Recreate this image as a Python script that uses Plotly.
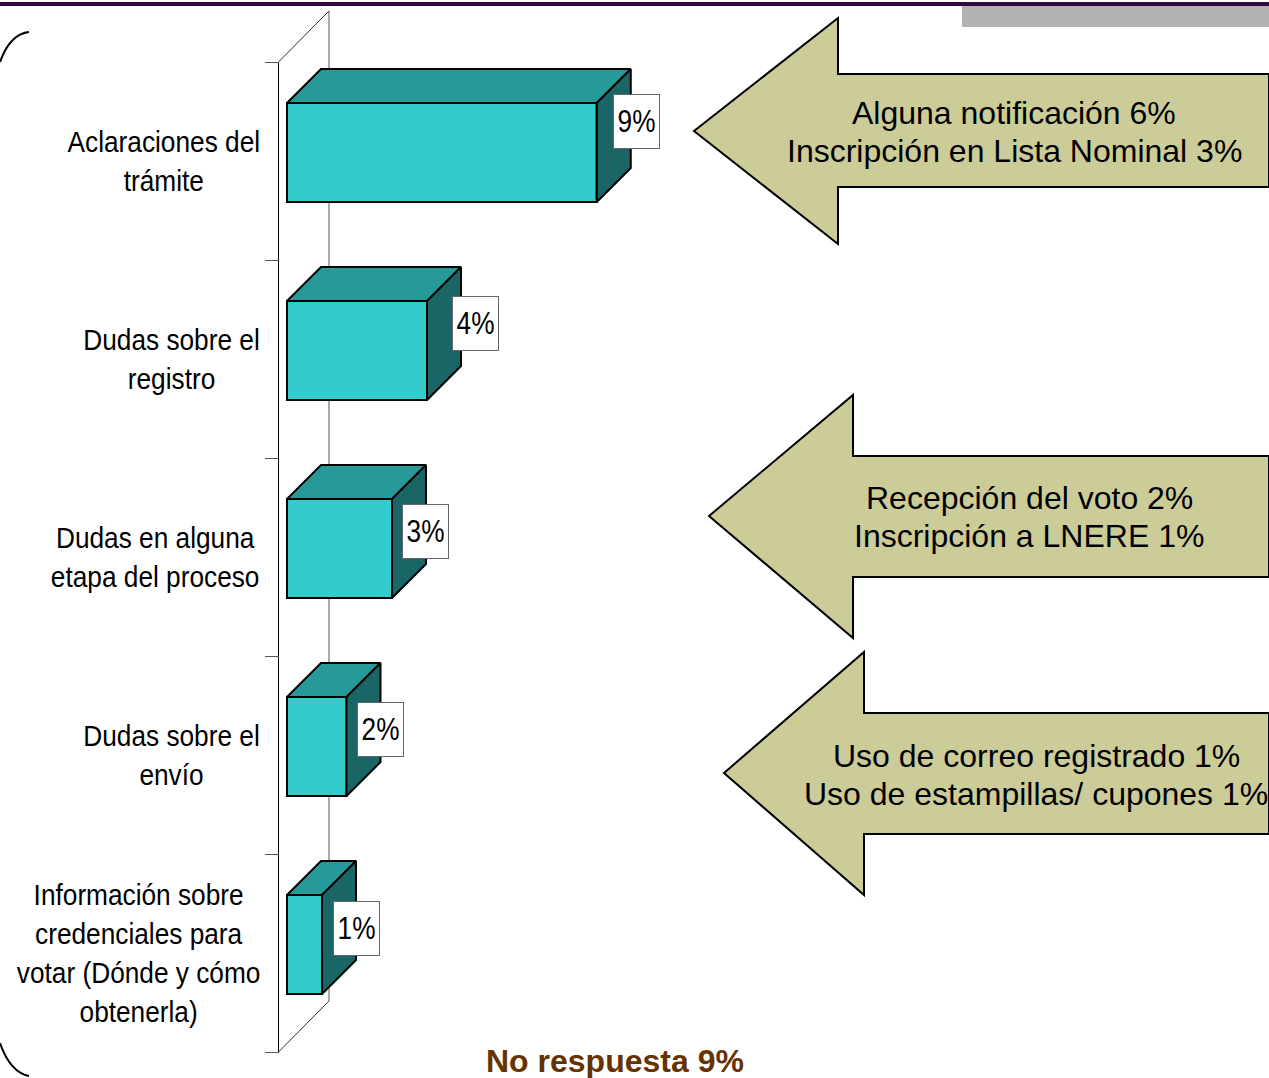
import plotly.graph_objects as go

categories = [
    "Aclaraciones del<br>trámite",
    "Dudas sobre el<br>registro",
    "Dudas en alguna<br>etapa del proceso",
    "Dudas sobre el<br>envío",
    "Información sobre<br>credenciales para<br>votar (Dónde y cómo<br>obtenerla)",
]
values = [8.85, 4.0, 3.0, 1.7, 1.0]
value_labels = ["9%", "4%", "3%", "2%", "1%"]
callout_lines = [
    ["Alguna notificación 6%", "Inscripción en Lista Nominal 3%"],
    ["Recepción del voto 2%", "Inscripción a LNERE 1%"],
    ["Uso de correo registrado 1%", "Uso de estampillas/ cupones 1%"],
]
footer = "No respuesta 9%"

W, H = 1269, 1078
# plot scale: bars start at x=287px, one unit = 35px, one category = 198px from y=62px
X0, UNIT, Y0, BAND = 287, 35.0, 62, 198.0
DX, DY = 34 / UNIT, 34 / BAND
ARIAL = "Liberation Sans"


def px(x):
    return x / W


def py(y):
    return 1 - y / H


def data_x(x):
    return (x - X0) / UNIT


fig = go.Figure()

# front faces
fig.add_trace(go.Bar(
    x=values,
    y=[i + 0.457 for i in range(len(values))],
    width=0.5,
    orientation="h",
    marker=dict(color="#33CCCC", line=dict(color="black", width=2)),
    hoverinfo="skip",
))

# top and side faces
for i, v in enumerate(values):
    top, bottom = i + 0.207, i + 0.707
    fig.add_trace(go.Scatter(
        x=[0, DX, v + DX, v, 0], y=[top, top - DY, top - DY, top, top],
        fill="toself", fillcolor="#269999", mode="lines",
        line=dict(color="black", width=2), hoverinfo="skip",
    ))
    fig.add_trace(go.Scatter(
        x=[v, v + DX, v + DX, v, v], y=[top, top - DY, bottom - DY, bottom, top],
        fill="toself", fillcolor="#1A6666", mode="lines",
        line=dict(color="black", width=2), hoverinfo="skip",
    ))

# back wall of the 3d box, behind the bars
n = len(values)
wall_x, wall_back = data_x(278.5), data_x(329)
shapes = [
    dict(type="line", xref="x", yref="y", x0=wall_x, x1=wall_x, y0=0, y1=n,
         line=dict(color="black", width=1), layer="below"),
    dict(type="line", xref="x", yref="y", x0=wall_back, x1=wall_back,
         y0=-51 / BAND, y1=n - 51 / BAND, line=dict(color="#555555", width=1), layer="below"),
    dict(type="line", xref="x", yref="y", x0=wall_x, x1=wall_back, y0=0, y1=-51 / BAND,
         line=dict(color="#333333", width=1), layer="below"),
    dict(type="line", xref="x", yref="y", x0=wall_x, x1=wall_back, y0=n, y1=n - 51 / BAND,
         line=dict(color="#333333", width=1), layer="below"),
]

# page furniture
shapes += [
    dict(type="rect", xref="paper", yref="paper", x0=px(962), x1=1, y0=py(27), y1=py(5),
         fillcolor="#B2B2B2", line_width=0, layer="below"),
    dict(type="rect", xref="paper", yref="paper", x0=0, x1=1, y0=py(6), y1=py(2),
         fillcolor="#33063F", line_width=0, layer="below"),
]


def bracket(x_a, y_a, x_c, y_c, x_b, y_b):
    return f"M {px(x_a)} {py(y_a)} Q {px(x_c)} {py(y_c)} {px(x_b)} {py(y_b)}"


for path in [bracket(29, 32, 10, 34, 0, 62), bracket(29, 1076, 10, 1072, 0, 1043)]:
    shapes.append(dict(type="path", xref="paper", yref="paper", path=path,
                       line=dict(color="black", width=2)))

# callout arrows: tip x, tip y, head x, head top, neck top, neck bottom, head bottom
arrows = [
    (694, 131, 838, 18, 74, 187, 244),
    (709, 516, 853, 395, 456, 577, 638),
    (724, 773, 864, 652, 713, 834, 895),
]
for tx, ty, hx, ht, nt, nb, hb in arrows:
    pts = [(tx, ty), (hx, ht), (hx, nt), (W, nt), (W, nb), (hx, nb), (hx, hb)]
    path = "M " + " L ".join(f"{px(a)} {py(b)}" for a, b in pts) + " Z"
    shapes.append(dict(type="path", xref="paper", yref="paper", path=path,
                       fillcolor="#CCCC99", line=dict(color="black", width=2)))

annotations = []

# category labels
for i, c in enumerate(categories):
    annotations.append(dict(
        text=c, xref="paper", yref="y", x=px(262), y=i + 0.5, xanchor="right", yanchor="middle",
        align="center", showarrow=False, font=dict(family=ARIAL, size=30, color="black"),
    ))

# value boxes
label_dx = [40, 48.5, 33, 34, 34]
label_dy = [0.303, 0.323, 0.369, 0.369, 0.374]
for i, (v, t) in enumerate(zip(values, value_labels)):
    annotations.append(dict(
        text=t, xref="x", yref="y", x=v + label_dx[i] / UNIT, y=i + label_dy[i],
        xanchor="center", yanchor="middle", showarrow=False, width=45, height=53,
        bgcolor="white", bordercolor="#666666", borderwidth=1, borderpad=0,
        font=dict(family=ARIAL, size=32, color="black"),
    ))

# callout text
callout_pos = [(1014, 113, 151), (1029, 498, 536), (1036, 756, 794)]
for lines, (cx, y1, y2) in zip(callout_lines, callout_pos):
    for line, y in zip(lines, (y1, y2)):
        annotations.append(dict(
            text=line, xref="paper", yref="paper", x=px(cx), y=py(y), xanchor="center",
            yanchor="middle", showarrow=False, font=dict(family=ARIAL, size=32, color="black"),
        ))

annotations.append(dict(
    text=f"<b>{footer}</b>", xref="paper", yref="paper", x=px(615), y=py(1061),
    xanchor="center", yanchor="middle", showarrow=False,
    font=dict(family=ARIAL, size=32, color="#663300"),
))

fig.update_layout(
    width=W, height=H,
    margin=dict(l=0, r=0, t=0, b=0),
    paper_bgcolor="white", plot_bgcolor="white",
    showlegend=False, barmode="overlay",
    shapes=shapes, annotations=annotations,
    xaxis=dict(range=[data_x(0), data_x(W)], visible=False, fixedrange=True),
    yaxis=dict(
        range=[(H - Y0) / BAND, -Y0 / BAND], fixedrange=True,
        anchor="free", position=px(278.5), side="left",
        tickvals=list(range(n + 1)), showticklabels=False,
        ticks="outside", ticklen=14, tickwidth=1, tickcolor="#555555",
        showgrid=False, zeroline=False, showline=False,
    ),
)

# no narrow font is installed: squeeze Liberation Sans to the reference's narrow width
narrow_js = """
document.body.style.margin = '0';
document.querySelectorAll('g.annotation').forEach(function (g) {
  var i = +g.getAttribute('data-index');
  if (i >= 10) return;
  var t = g.querySelector('text');
  var b = t.getBBox();
  var c = i < 5 ? b.x + b.width : b.x + b.width / 2;
  var s = i < 5 ? 0.875 : 0.82;
  t.setAttribute('transform', 'translate(' + c + ' 0) scale(' + s + ' 1) translate(' + (-c) + ' 0)');
});
"""
fig.write_html("out.html", config={"displayModeBar": False}, post_script=narrow_js)
